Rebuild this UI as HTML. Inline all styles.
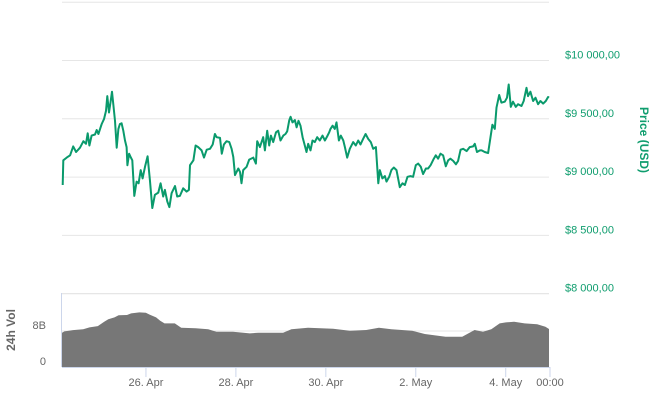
<!DOCTYPE html>
<html><head><meta charset="utf-8"><style>
html,body{margin:0;padding:0;background:#fff;}
svg{display:block;font-family:"Liberation Sans",sans-serif;}
</style></head><body>
<svg id="chart" width="651" height="416" viewBox="0 0 651 416">
<g id="grid"></g>
<g id="vol"></g>
<g id="price"></g>
<g id="axes"></g>
<text transform="translate(640,140) rotate(90)" text-anchor="middle" fill="#0f9d6e" font-size="12" font-weight="bold">Price (USD)</text>
<text transform="translate(15,330) rotate(-90)" text-anchor="middle" fill="#666" font-size="12" font-weight="bold">24h Vol</text>
</svg>
<script>
const priceHours=[3.6,3.9,5.7,7.5,9.2,10.7,12.8,14.6,16.0,16.9,17.8,19.0,20.8,21.7,22.6,24.4,25.6,26.7,27.4,28.3,29.2,29.9,30.6,31.5,32.4,33.3,34.1,35.0,35.9,36.8,37.7,38.1,39.0,39.8,40.7,41.8,43.0,44.1,45.2,46.2,47.5,48.9,50.1,51.4,52.8,54.6,55.8,57.2,58.1,59.4,60.5,61.7,63.5,64.7,66.1,67.9,69.7,70.9,71.5,73.3,74.5,75.9,77.7,79.0,80.4,82.2,83.6,84.8,85.7,87.5,88.5,89.6,91.0,92.5,93.7,94.6,95.5,97.3,98.2,99.0,99.9,101.7,103.1,105.3,106.7,107.4,108.8,110.6,111.5,112.7,113.8,114.7,115.9,117.4,118.6,119.8,121.3,122.5,123.4,124.5,125.2,126.2,127.5,128.4,129.4,130.5,131.6,132.8,133.7,134.6,135.8,136.9,138.1,139.4,140.8,142.2,143.5,144.7,145.8,146.5,147.6,148.8,149.7,151.0,152.0,153.3,154.2,155.4,156.8,158.6,160.0,161.3,162.5,163.9,165.2,166.6,168.0,169.3,170.7,172.0,172.8,174.2,175.5,176.4,177.8,179.0,180.3,181.7,183.5,184.9,186.2,187.6,189.2,190.6,192.0,193.3,194.7,195.9,197.4,198.6,199.9,201.6,202.7,203.9,205.2,206.6,208.0,209.3,210.5,212.0,213.4,214.6,215.9,217.3,219.1,220.8,222.6,223.5,224.7,226.2,227.2,228.8,230.6,231.9,232.9,234.2,235.1,236.5,237.7,239.5,240.7,241.6,242.7,243.9,245.4,246.6,248.4,249.6,251.1,251.9,253.2,254.6,255.9,257.3,258.5,260.0,261.4,262.6,263.1];
const priceValues=[8932,9144,9167,9187,9263,9215,9252,9308,9286,9376,9271,9356,9365,9404,9370,9455,9497,9568,9695,9554,9653,9732,9625,9483,9252,9413,9455,9461,9398,9314,9257,9102,9201,9172,9144,8839,8961,8947,9060,8989,9088,9178,8975,8735,8848,8867,8947,8834,8890,8791,8743,8862,8924,8834,8839,8904,8876,8890,9102,9144,9271,9257,9229,9167,9235,9243,9280,9370,9342,9336,9201,9280,9308,9300,9243,9172,9017,9074,9045,8947,9060,9088,9150,9167,9116,9308,9257,9342,9229,9398,9271,9356,9300,9384,9398,9314,9356,9370,9393,9489,9517,9469,9489,9427,9483,9441,9342,9271,9215,9286,9229,9314,9300,9342,9314,9356,9314,9348,9384,9413,9441,9413,9469,9314,9356,9314,9257,9167,9243,9300,9271,9314,9280,9328,9370,9328,9300,9243,9257,8947,9060,8989,9009,8961,9003,9060,9082,9060,8913,8947,8932,9003,9009,9003,9102,9116,9088,9026,9074,9074,9102,9158,9187,9158,9201,9187,9093,9144,9158,9139,9110,9139,9235,9243,9223,9257,9263,9286,9215,9229,9229,9215,9206,9342,9449,9413,9596,9704,9639,9647,9681,9794,9602,9647,9602,9625,9610,9653,9766,9695,9732,9653,9681,9625,9653,9630,9653,9687,9681];
const volHours=[3.2,4.5,9.0,14.5,17.9,22.3,25.7,27.9,31.2,33.4,37.9,40.1,44.5,47.9,50.1,53.4,55.6,57.9,63.4,66.8,74.5,81.2,85.6,94.5,103.4,107.9,121.2,125.6,134.5,147.9,156.8,165.6,172.3,179.0,190.1,196.8,202.3,207.9,216.8,220.1,223.4,227.9,232.3,236.8,240.1,244.5,250.1,256.8,261.2,263.1];
const volValues=[7.6,7.9,8.2,8.37,8.8,9.1,10.07,10.6,11.03,11.48,11.55,11.92,12.14,12.07,11.62,11.03,10.29,9.7,9.7,8.74,8.59,8.37,7.85,7.85,7.47,7.62,7.62,8.37,8.74,8.52,8.07,8.22,8.74,8.37,8.07,7.33,7.03,6.73,6.73,7.47,8.22,7.85,8.37,9.7,9.92,10.07,9.7,9.48,8.96,8.44];
const priceTicks=[10500,10000,9500,9000,8500,8000];
const priceTickLabels=["","$10 000,00","$9 500,00","$9 000,00","$8 500,00","$8 000,00"];
const volTicks=[0,8];
const volTickLabels=["0","8B"];
const xTickHours=[48,96,144,192,240,264];
const xTickLabels=["26. Apr","28. Apr","30. Apr","2. May","4. May","00:00"];

const NS="http://www.w3.org/2000/svg";
const X0=62,X1=549,H0=3.2,H1=263.1;
const xs=h=>X0+(h-H0)*(X1-X0)/(H1-H0);
const ys=p=>60.5+(10000-p)*0.1166;
const vy=v=>367-v*36/8;
function mk(tag,attrs,parent){const e=document.createElementNS(NS,tag);for(const k in attrs)e.setAttribute(k,attrs[k]);parent.appendChild(e);return e;}
const grid=document.getElementById('grid'),axes=document.getElementById('axes');
priceTicks.forEach((t,i)=>{
  const l=mk('line',{x1:X0,x2:X1,y1:ys(t),y2:ys(t),stroke:'#e6e6e6','stroke-width':1},grid);
  
  
  if(priceTickLabels[i]){
    const tx=mk('text',{x:565,y:ys(t)-2,fill:'#0f9d6e','font-size':11},axes);
    tx.textContent=priceTickLabels[i];
    
    
  }
});
volTicks.forEach((t,i)=>{
  const l=mk('line',{x1:X0,x2:X1,y1:vy(t),y2:vy(t),stroke:'#e6e6e6','stroke-width':1},grid);
  
  
  const tx=mk('text',{x:46,y:vy(t)-2,fill:'#666','font-size':11,'text-anchor':'end'},axes);
  tx.textContent=volTickLabels[i];
  
  
});
const vtop=mk('line',{x1:X0,x2:X1,y1:293.5,y2:293.5,stroke:'#e6e6e6','stroke-width':1},grid);


let d='M'+xs(volHours[0])+','+vy(0);
volHours.forEach((h,i)=>{d+=' L'+xs(h).toFixed(1)+','+vy(volValues[i]).toFixed(1);});
d+=' L'+xs(volHours[volHours.length-1])+','+vy(0)+' Z';
const va=mk('path',{d:d,fill:'#777'},document.getElementById('vol'));


let pd='';
priceHours.forEach((h,i)=>{pd+=(i?' L':'M')+xs(h).toFixed(1)+','+ys(priceValues[i]).toFixed(1);});
const pl=mk('path',{d:pd,fill:'none',stroke:'#0a9a6c','stroke-width':2,'stroke-linejoin':'round'},document.getElementById('price'));


const ya=mk('line',{x1:61.5,x2:61.5,y1:293,y2:367,stroke:'#ccd6eb'},axes);


const xa=mk('line',{x1:X0,x2:X1+1,y1:367.5,y2:367.5,stroke:'#ccd6eb'},axes);


xTickHours.forEach((h,i)=>{
  const x=Math.min(xs(h),X1+1);
  const tk=mk('line',{x1:x,x2:x,y1:367,y2:377,stroke:'#ccd6eb'},axes);
  
  
  const tx=mk('text',{x:x,y:386,fill:'#666','font-size':11,'text-anchor':'middle'},axes);
  tx.textContent=xTickLabels[i];
  
  
});
</script>
</body></html>
